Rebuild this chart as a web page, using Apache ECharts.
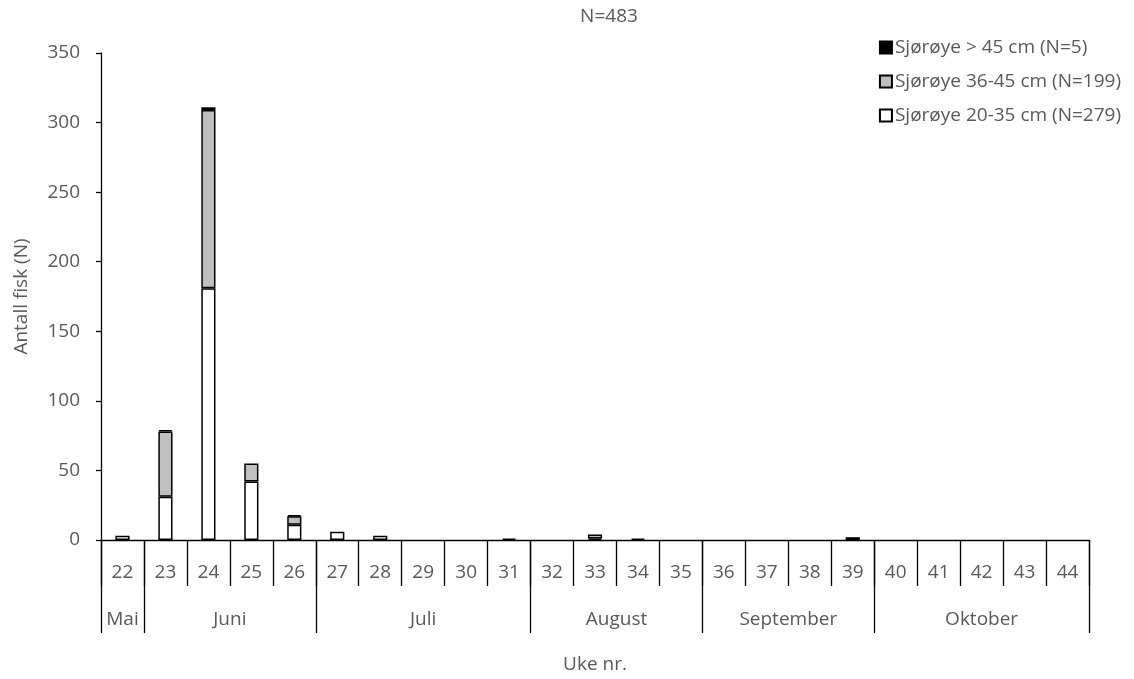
<!DOCTYPE html>
<html><head><meta charset="utf-8">
<script src="https://cdn.jsdelivr.net/npm/echarts@6/dist/echarts.min.js"></script>
<style>html,body{margin:0;padding:0;background:#fff}#c{width:1134px;height:679px}</style>
</head><body><div id="c"></div>
<script>
const weeks = ['22','23','24','25','26','27','28','29','30','31','32','33','34','35','36','37','38','39','40','41','42','43','44'];
const small = [3,31,181,42,11,6,3,0,0,1,0,1,0,0,0,0,0,0,0,0,0,0,0];
const medium = [0,47,128,13,6,0,0,0,0,0,0,3,0,0,0,0,0,2,0,0,0,0,0];
const large = [0,1,2,0,1,0,0,0,0,0,0,0,1,0,0,0,0,0,0,0,0,0,0];
const months = [
  {name:'Mai', first:22, last:22},
  {name:'Juni', first:23, last:26},
  {name:'Juli', first:27, last:31},
  {name:'August', first:32, last:35},
  {name:'September', first:36, last:39},
  {name:'Oktober', first:40, last:44}
];
const seriesNames = ['Sjørøye 20-35 cm (N=279)','Sjørøye 36-45 cm (N=199)','Sjørøye > 45 cm (N=5)'];
const yTicks = {min:0, max:350, interval:50};
const titleText = 'N=483';

const w0 = +weeks[0];
const monthBounds = [0].concat(months.map(m => m.last - w0 + 1));
const monthCenters = months.map(m => (m.first - w0 + m.last - w0 + 1) / 2);
const FONT = 'Open Sans';
const GREY = '#595959';
const FS = 19;
const nz = a => a.map(v => v === 0 ? null : v);

const chart = echarts.init(document.getElementById('c'));
const barBase = {type:'bar', stack:'s', barWidth:'33%', xAxisIndex:0};
chart.setOption({
  animation:false,
  textStyle:{fontFamily:FONT},
  title:{text:titleText, left:604, top:2, textAlign:'center',
    textStyle:{fontFamily:FONT, fontSize:19, fontWeight:'normal', color:GREY}},
  legend:{orient:'vertical', right:8, top:33, itemWidth:12, itemHeight:12, itemGap:15,
    icon:'rect', data:[seriesNames[2], seriesNames[1], seriesNames[0]],
    textStyle:{fontFamily:FONT, fontSize:19, color:GREY, padding:[0,0,0,-2]}},
  grid:{left:101, right:45, top:53, bottom:137, containLabel:false},
  xAxis:[
    {type:'category', data:weeks, position:'bottom',
      axisLine:{show:true, lineStyle:{color:'#000', width:1.3}},
      axisTick:{show:true, interval:0, alignWithLabel:false, length:46, lineStyle:{color:'#000', width:1.3}},
      axisLabel:{interval:0, margin:23, fontFamily:FONT, fontSize:FS, color:GREY}},
    {type:'value', min:0, max:weeks.length, position:'bottom',
      axisLine:{show:false},
      splitLine:{show:false},
      axisTick:{show:true, customValues:monthBounds, length:93, lineStyle:{color:'#000', width:1.3}},
      axisLabel:{show:true, customValues:monthCenters, margin:70, fontFamily:FONT, fontSize:FS, color:GREY,
        formatter: v => { const i = monthCenters.indexOf(v); return i >= 0 ? months[i].name : ''; }},
      name:'Uke nr.', nameLocation:'middle', nameGap:115,
      nameTextStyle:{fontFamily:FONT, fontSize:FS, color:GREY}},
  ],
  yAxis:{type:'value', min:yTicks.min, max:yTicks.max, interval:yTicks.interval,
    axisLine:{show:true, lineStyle:{color:'#000', width:1.3}},
    axisTick:{show:true, length:5, lineStyle:{color:'#000', width:1.3}},
    splitLine:{show:false},
    axisLabel:{margin:21, fontFamily:FONT, fontSize:FS, color:GREY},
    name:'Antall fisk (N)', nameLocation:'middle', nameGap:70,
    nameTextStyle:{fontFamily:FONT, fontSize:FS, color:GREY}},
  series:[
    Object.assign({}, barBase, {name:seriesNames[0], data:nz(small),
      itemStyle:{color:'#ffffff', borderColor:'#000', borderWidth:1.5}}),
    Object.assign({}, barBase, {name:seriesNames[1], data:nz(medium),
      itemStyle:{color:'#bfbfbf', borderColor:'#000', borderWidth:1.5}}),
    Object.assign({}, barBase, {name:seriesNames[2], data:nz(large),
      itemStyle:{color:'#000000', borderColor:'#000', borderWidth:1.5}})
  ]
});
</script></body></html>
